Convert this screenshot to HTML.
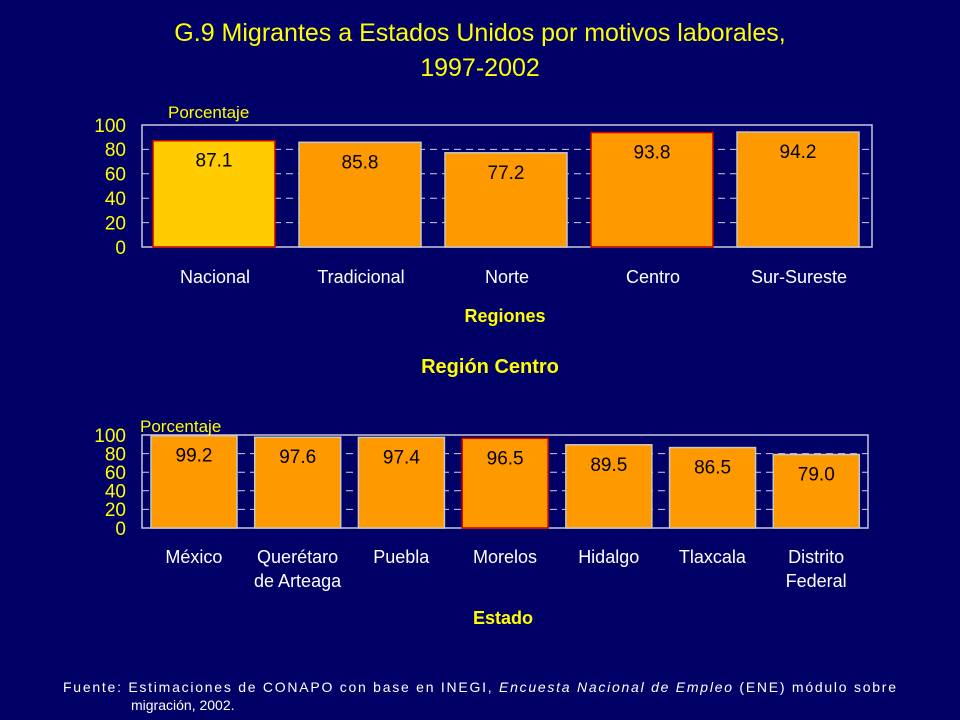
<!DOCTYPE html>
<html><head><meta charset="utf-8">
<style>
body{margin:0;width:960px;height:720px;background:#000066;overflow:hidden;font-family:"Liberation Sans",Arial,sans-serif;}
svg{display:block}
</style></head>
<body>
<svg id="c" width="960" height="720">
<text x="480" y="41" fill="#ffff00" font-size="25" text-anchor="middle">G.9 Migrantes a Estados Unidos por motivos laborales,</text>
<text x="480" y="76" fill="#ffff00" font-size="25" text-anchor="middle">1997-2002</text>
<text x="490" y="373" fill="#ffff00" font-size="20" font-weight="bold" text-anchor="middle">Región Centro</text>
<text x="63" y="692" fill="#ffffff" font-size="14" textLength="833" lengthAdjust="spacing">Fuente: Estimaciones de CONAPO con base en INEGI, <tspan font-style="italic">Encuesta Nacional de Empleo</tspan> (ENE) módulo sobre</text>
<text x="131" y="710" fill="#ffffff" font-size="14">migración, 2002.</text>
</svg>
<script>
const topCats=[["Nacional"],["Tradicional"],["Norte"],["Centro"],["Sur-Sureste"]];
const topVals=[87.1,85.8,77.2,93.8,94.2];
const topLabels=["87.1","85.8","77.2","93.8","94.2"];
const botCats=[["México"],["Querétaro","de Arteaga"],["Puebla"],["Morelos"],["Hidalgo"],["Tlaxcala"],["Distrito","Federal"]];
const botVals=[99.2,97.6,97.4,96.5,89.5,86.5,79.0];
const botLabels=["99.2","97.6","97.4","96.5","89.5","86.5","79.0"];
const yTicks=[0,20,40,60,80,100];
const NS="http://www.w3.org/2000/svg";
const svg=document.getElementById('c');
function mk(tag,attrs,parent){const e=document.createElementNS(NS,tag);for(const k in attrs)e.setAttribute(k,attrs[k]);(parent||svg).appendChild(e);return e;}
function chart(o){
  const g=mk('g',{});
  
  
  const y=v=>o.bottom-(v/100)*(o.bottom-o.top);
  const slot=(o.right-o.left)/o.cats.length;
  yTicks.forEach(t=>{
    if(t>0){const l=mk('line',{x1:o.left,x2:o.right,y1:y(t),y2:y(t),stroke:'#d0d0e0','stroke-width':1,'stroke-dasharray':'7,5'},g);
    
    }
    const tx=mk('text',{x:o.left-16,y:y(t)+o.tfs*0.36,fill:'#ffff00','font-size':o.tfs,'text-anchor':'end'},g);
    tx.textContent=t;
    
    
  });
  const fr=mk('rect',{x:o.left,y:o.top,width:o.right-o.left,height:o.bottom-o.top,fill:'none',stroke:'#c8c8d8','stroke-width':1.5},g);
  
  
  o.cats.forEach((c,i)=>{
    const x0=o.left+i*slot+o.off;
    const v=o.vals[i];
    const hl=o.hl[i];
    const r=mk('rect',{x:x0,y:y(v),width:o.bw,height:y(0)-y(v),fill:hl===2?'#ffcc00':'#ff9900',stroke:hl?'#cc0000':'#c8c8c8','stroke-width':1.5},g);
    
    
    const lb=mk('text',{x:x0+o.bw/2,y:y(v)+o.lblOff,fill:'#000000','font-size':19,'text-anchor':'middle'},g);
    lb.textContent=o.labels[i];
    
    
    c.forEach((line,j)=>{
      const ct=mk('text',{x:o.left+i*slot+slot/2,y:o.catY+j*24,fill:'#ffffff','font-size':18,'text-anchor':'middle'},g);
      ct.textContent=line;
      
      
    });
  });
  const yt=mk('text',{x:o.ytX,y:o.ytY,fill:'#ffff00','font-size':17},g);
  yt.textContent='Porcentaje';
  
  
  const xt=mk('text',{x:o.xtX,y:o.xtY,fill:'#ffff00','font-size':18,'font-weight':'bold','text-anchor':'middle'},g);
  xt.textContent=o.xtitle;
  
  
}
chart({name:'regions-chart',cats:topCats,vals:topVals,labels:topLabels,hl:[2,0,0,1,0],left:142,right:872,top:125,bottom:247,off:11,bw:122,lblOff:26,tfs:19,catY:283,ytX:168,ytY:118,xtX:505,xtY:322,xtitle:'Regiones'});
chart({name:'centro-chart',cats:botCats,vals:botVals,labels:botLabels,hl:[0,0,0,1,0,0,0],left:142,right:868,top:435,bottom:528,off:9,bw:86,lblOff:26,tfs:19,catY:563,ytX:140,ytY:432,xtX:503,xtY:624,xtitle:'Estado'});
</script>
</body></html>
